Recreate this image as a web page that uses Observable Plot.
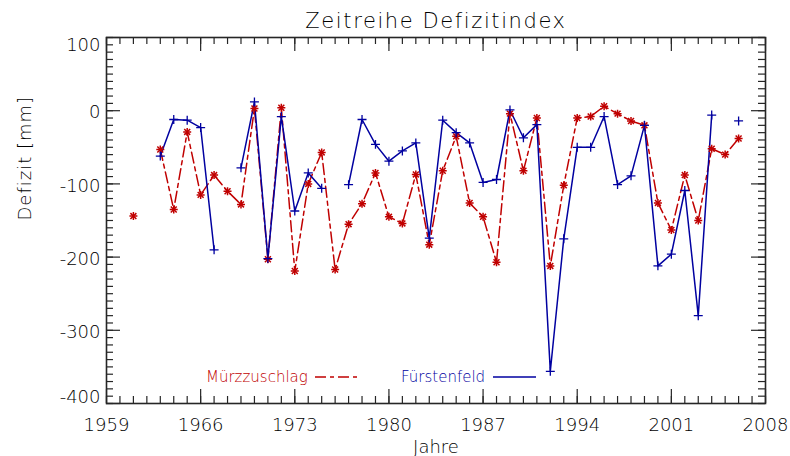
<!DOCTYPE html>
<html><head><meta charset="utf-8">
<script src="https://cdn.jsdelivr.net/npm/d3@7"></script>
<script src="https://cdn.jsdelivr.net/npm/@observablehq/plot@0.6"></script>
<style>html,body{margin:0;padding:0;background:#fff;}</style>
</head><body><div id="chart"></div>
<script>
// ---- data ----
const years = [1961,1962,1963,1964,1965,1966,1967,1968,1969,1970,1971,1972,1973,1974,1975,1976,1977,1978,1979,1980,1981,1982,1983,1984,1985,1986,1987,1988,1989,1990,1991,1992,1993,1994,1995,1996,1997,1998,1999,2000,2001,2002,2003,2004,2005,2006];
const muerzzuschlag = [-144,null,-53,-135,-29,-115,-88,-110,-128,3,-203,4,-219,-100,-57,-217,-155,-127,-85,-145,-154,-87,-183,-82,-35,-126,-145,-207,-4,-82,-10,-212,-102,-10,-8,6,-4,-14,-20,-126,-163,-88,-150,-52,-60,-38];
const fuerstenfeld = [null,null,-62,-12,-13,-23,-190,null,-78,12,-202,-8,-137,-85,-106,null,-101,-12,-46,-69,-55,-44,-174,-13,-30,-44,-98,-94,1,-37,-19,-356,-175,-50,-50,-8,-101,-89,-20,-212,-196,-109,-280,-6,null,-14];
const seriesNames = ["Mürzzuschlag","Fürstenfeld"];
const xTickLabels = [1959,1966,1973,1980,1987,1994,2001,2008];
const yTickLabels = [100,0,-100,-200,-300,-400];
const xMinorTicks = d3.range(1959, 2009, 1);
const yMinorTicks = d3.range(-400, 101, 10);

// ---- layout / style ----
const W = 790, H = 456, mL = 106, mR = 25, mT = 37, mB = 53;
const pw = W - mL - mR, ph = H - mT - mB;
const red = "#c00000", blue = "#0000a0", ink = "#262626", textInk = "#000";
const font = "DejaVu Sans";
const fw = 300;

const mz = years.map((year, i) => ({year, v: muerzzuschlag[i]}));
const ff = years.map((year, i) => ({year, v: fuerstenfeld[i]}));

const tickStyle = {stroke: ink, strokeWidth: 1.2};
const lbl = {fontSize: 18, fill: textInk, fontWeight: fw};
const plot = Plot.plot({
  width: W, height: H,
  marginLeft: mL, marginRight: mR, marginTop: mT, marginBottom: mB,
  x: {domain: [1959, 2008], axis: null},
  y: {domain: [-400, 100], axis: null},
  style: {fontFamily: font, background: "#fff"},
  marks: [
    // ticks on all four sides, pointing inward
    Plot.tickX(xMinorTicks, {x: d => d, insetTop: ph - 7, ...tickStyle}),
    Plot.tickX(xTickLabels, {x: d => d, insetTop: ph - 14, ...tickStyle}),
    Plot.tickX(xMinorTicks, {x: d => d, insetBottom: ph - 7, ...tickStyle}),
    Plot.tickX(xTickLabels, {x: d => d, insetBottom: ph - 14, ...tickStyle}),
    Plot.tickY(yMinorTicks, {y: d => d, insetRight: pw - 7, ...tickStyle}),
    Plot.tickY(yTickLabels, {y: d => d, insetRight: pw - 14, ...tickStyle}),
    Plot.tickY(yMinorTicks, {y: d => d, insetLeft: pw - 7, ...tickStyle}),
    Plot.tickY(yTickLabels, {y: d => d, insetLeft: pw - 14, ...tickStyle}),
    Plot.frame({stroke: ink, strokeWidth: 1.6}),
    // series
    Plot.line(mz, {x: "year", y: "v", stroke: red, strokeWidth: 1.5, strokeDasharray: "11,4,4,4"}),
    Plot.line(ff, {x: "year", y: "v", stroke: blue, strokeWidth: 1.5}),
    Plot.dot(mz, {x: "year", y: "v", symbol: "plus", r: 2.7, stroke: red, strokeWidth: 1.5}),
    Plot.dot(mz, {x: "year", y: "v", symbol: "times", r: 2.8, stroke: red, strokeWidth: 1.5}),
    Plot.dot(ff, {x: "year", y: "v", symbol: "plus", r: 3.0, stroke: blue, strokeWidth: 1.3}),
    // tick labels
    Plot.text(xTickLabels, {x: d => d, text: d => String(d), frameAnchor: "bottom", dy: 22, lineAnchor: "middle", ...lbl}),
    Plot.text(yTickLabels.filter(d => d !== 100 && d !== -400), {y: d => d, text: d => String(d), frameAnchor: "left", textAnchor: "end", dx: -6, dy: 2, lineAnchor: "middle", ...lbl}),
    Plot.text(yTickLabels.filter(d => d === 100), {y: d => d, text: d => String(d), frameAnchor: "left", textAnchor: "end", dx: -6, dy: 8, lineAnchor: "middle", ...lbl}),
    Plot.text(yTickLabels.filter(d => d === -400), {y: d => d, text: d => String(d), frameAnchor: "left", textAnchor: "end", dx: -6, dy: -6, lineAnchor: "middle", ...lbl}),
    // titles
    Plot.text(["Zeitreihe Defizitindex"], {text: d => d, frameAnchor: "top", dy: -16, lineAnchor: "middle", fontSize: 21, fill: textInk, fontWeight: fw}),
    Plot.text(["Jahre"], {text: d => d, frameAnchor: "bottom", dy: 44, lineAnchor: "middle", ...lbl}),
    Plot.text(["Defizit [mm]"], {text: d => d, frameAnchor: "left", dx: -81, rotate: -90, lineAnchor: "middle", ...lbl})
  ]
});

const svg = d3.select(plot);
svg.selectAll("text").filter(function() { return this.textContent === "Zeitreihe Defizitindex"; })
  .attr("letter-spacing", 1.6);
svg.selectAll("text").filter(function() { return this.textContent === "Defizit [mm]"; })
  .attr("letter-spacing", 1.0);

// legend
const lg = svg.append("g").attr("font-family", font).attr("font-size", 15)
  .attr("font-weight", fw).attr("text-anchor", "start");
lg.append("text").attr("x", 206).attr("y", 377).attr("dy", "0.35em").attr("fill", red).text(seriesNames[0]);
lg.append("line").attr("x1", 315).attr("x2", 360).attr("y1", 377).attr("y2", 377).attr("stroke", red).attr("stroke-width", 1.5).attr("stroke-dasharray", "11,4,4,4");
lg.append("text").attr("x", 401).attr("y", 377).attr("dy", "0.35em").attr("fill", blue).text(seriesNames[1]);
lg.append("line").attr("x1", 493).attr("x2", 536).attr("y1", 377).attr("y2", 377).attr("stroke", blue).attr("stroke-width", 1.5);

document.getElementById("chart").append(plot);
</script>
</body></html>
